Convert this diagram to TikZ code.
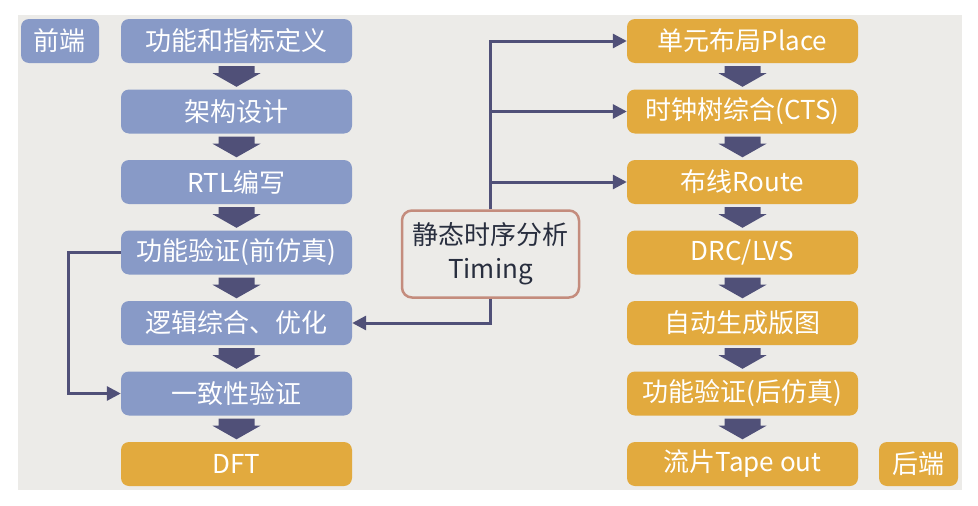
\documentclass[tikz,border=0pt]{standalone}
\usepackage{fontspec}
\setmainfont{Noto Sans CJK SC}
\usetikzlibrary{arrows.meta,calc}
\definecolor{bgcol}{RGB}{236,235,232}
\definecolor{bluebox}{RGB}{136,154,199}
\definecolor{orangebox}{RGB}{226,170,62}
\definecolor{arrowcol}{RGB}{80,80,120}
\definecolor{timborder}{RGB}{196,140,125}
\definecolor{timtext}{RGB}{40,46,62}
\tikzset{
  flowbox/.style={rounded corners=8pt, minimum width=231pt, minimum height=44pt, inner sep=0pt,
    text=white, font=\fontsize{26}{30}\selectfont},
  frontbox/.style={flowbox, fill=bluebox},
  backbox/.style={flowbox, fill=orangebox},
  tagbox/.style={flowbox, minimum width=79pt},
  conn/.style={draw=arrowcol, line width=3pt, -{Triangle[length=14pt,width=14pt]}},
  plainconn/.style={draw=arrowcol, line width=3pt}
}
\newcommand\fatarr[2]{\fill[arrowcol] ($(#1.south)+(-18,3)$) -- ($(#1.south)+(18,3)$) -- ($(#1.south)+(18,10)$) -- ($(#1.south)+(24,10)$) -- ($(#2.north)+(0,-2.5)$) -- ($(#1.south)+(-24,10)$) -- ($(#1.south)+(-18,10)$) -- cycle;}
\begin{document}
\begin{tikzpicture}[x=1pt,y=-1pt]
\useasboundingbox (0,0) rectangle (978,506);
\fill[white] (0,0) rectangle (978,506);
\fill[bgcol] (18,15) rectangle (962,490);
% front end
\node[frontbox] (f1) at (236.5,41) {功能和指标定义};
\node[frontbox] (f2) at (236.5,111.5) {架构设计};
\node[frontbox] (f3) at (236.5,182) {RTL编写};
\node[frontbox] (f4) at (236.5,252.5) {功能验证(前仿真)};
\node[frontbox] (f5) at (236.5,323) {逻辑综合、优化};
\node[frontbox] (f6) at (236.5,393.5) {一致性验证};
\node[backbox] (f7) at (236.5,464) {DFT};
\node[tagbox, fill=bluebox, minimum width=78pt] (fe) at (60,41) {前端};
% back end
\node[backbox] (b1) at (742.5,41) {单元布局Place};
\node[backbox] (b2) at (742.5,111.5) {时钟树综合(CTS)};
\node[backbox] (b3) at (742.5,182) {布线Route};
\node[backbox] (b4) at (742.5,252.5) {DRC/LVS};
\node[backbox] (b5) at (742.5,323) {自动生成版图};
\node[backbox] (b6) at (742.5,393.5) {功能验证(后仿真)};
\node[backbox] (b7) at (742.5,464) {流片Tape out};
\node[tagbox, fill=orangebox] (be) at (918.5,464) {后端};
% timing
\node[draw=timborder, line width=2.5pt, fill=bgcol, rounded corners=10pt,
  minimum width=177pt, minimum height=87pt, text=timtext, align=center,
  font=\fontsize{26}{34}\selectfont] (tim) at (490.5,254) {静态时序分析\\Timing};
% fat arrows
\fatarr{f1}{f2}\fatarr{f2}{f3}\fatarr{f3}{f4}\fatarr{f4}{f5}\fatarr{f5}{f6}\fatarr{f6}{f7}
\fatarr{b1}{b2}\fatarr{b2}{b3}\fatarr{b3}{b4}\fatarr{b4}{b5}\fatarr{b5}{b6}\fatarr{b6}{b7}
% thin connectors
\draw[conn] (f4.west) -- ++(-52,0) |- (f6.west);
\draw[conn] (tim.south) |- (f5.east);
\draw[conn] (tim.north) |- (b1.west);
\draw[conn] (tim.north |- b2.west) -- (b2.west);
\draw[conn] (tim.north |- b3.west) -- (b3.west);
\end{tikzpicture}
\end{document}
